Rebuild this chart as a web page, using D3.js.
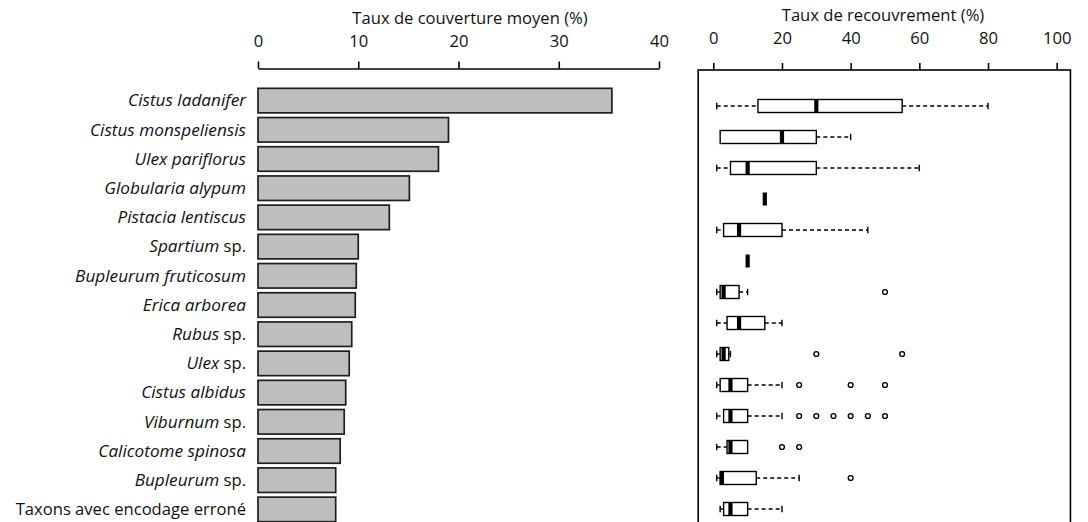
<!DOCTYPE html>
<html><head><meta charset="utf-8">
<script src="https://cdn.jsdelivr.net/npm/d3@7"></script>
<style>
html,body{margin:0;padding:0;background:#fff;}
svg{display:block;font-family:"Open Sans",sans-serif;}
</style></head>
<body>
<svg id="chart" width="1088" height="522"></svg>
<script>
// ---- data ----
const taxa = ["Cistus ladanifer","Cistus monspeliensis","Ulex pariflorus","Globularia alypum","Pistacia lentiscus","Spartium sp.","Bupleurum fruticosum","Erica arborea","Rubus sp.","Ulex sp.","Cistus albidus","Viburnum sp.","Calicotome spinosa","Bupleurum sp.","Taxons avec encodage erroné"];
const meanCover = [35.3, 19.0, 18.0, 15.1, 13.1, 10.0, 9.8, 9.7, 9.35, 9.1, 8.75, 8.6, 8.2, 7.75, 7.75];
const leftTicks = [0, 10, 20, 30, 40];
const rightTicks = [0, 20, 40, 60, 80, 100];
const leftTitle = "Taux de couverture moyen (%)";
const rightTitle = "Taux de recouvrement (%)";
// boxplot statistics per row (rows shown in the right panel)
const boxMin = [1, 2, 1, 15, 1, 10, 1, 1, 1, 1, 1, 1, 1, 2];
const boxQ1  = [13, 2, 5, 15, 3, 10, 2, 4, 2, 2, 3, 4, 2, 3];
const boxMed = [30, 20, 10, 15, 7.5, 10, 3, 7.5, 3, 5, 5, 5, 2.5, 5];
const boxQ3  = [55, 30, 30, 15, 20, 10, 7.5, 15, 4.5, 10, 10, 10, 12.5, 10];
const boxMax = [80, 40, 60, 15, 45, 10, 10, 20, 5, 20, 20, 10, 25, 20];
const outliers = [[], [], [], [], [], [], [50], [], [30, 55], [25, 40, 50], [25, 30, 35, 40, 45, 50], [20, 25], [40], []];

// ---- drawing ----
const svg = d3.select("#chart");
const FS = 16.6;
const FSI = 17.2;

// Left panel
const xL = d3.scaleLinear().domain([0, 40]).range([258, 659]);
const yL = d3.scaleBand().domain(taxa).range([86, 86 + 15 * 29.2]).paddingInner(0.16).paddingOuter(0.08);

const gL = svg.append("g");
gL.selectAll("rect.bar").data(taxa).join("rect")
  .attr("class", "bar")
  .attr("x", xL(0))
  .attr("y", d => yL(d))
  .attr("width", (d, i) => xL(meanCover[i]) - xL(0))
  .attr("height", yL.bandwidth())
  .attr("fill", "#bebebe")
  .attr("stroke", "#1e1e1e")
  .attr("stroke-width", 1.7);

const axL = gL.append("g").attr("transform", "translate(0,68.5)")
  .call(d3.axisTop(xL).tickValues(leftTicks).tickFormat(d3.format("d")).tickSize(7).tickSizeOuter(0).tickPadding(15));
axL.select(".domain").attr("stroke", "#000").attr("stroke-width", 1.6);
axL.selectAll(".tick line").attr("stroke", "#000").attr("stroke-width", 1.6);
axL.selectAll(".tick text").attr("font-size", FS).attr("font-family", "Open Sans").attr("fill", "#111");

gL.append("text").attr("x", 470).attr("y", 23.8).attr("text-anchor", "middle")
  .attr("font-size", FS).attr("fill", "#111").text(leftTitle);

// category labels
const lab = gL.selectAll("text.lab").data(taxa).join("text")
  .attr("class", "lab")
  .attr("x", 246)
  .attr("y", d => yL(d) + yL.bandwidth() / 2)
  .attr("dy", "0.35em")
  .attr("text-anchor", "end")
  .attr("font-size", FS)
  .attr("fill", "#111");
lab.each(function(d) {
  const t = d3.select(this);
  if (d.startsWith("Taxons")) {
    t.append("tspan").text(d);
  } else if (d.endsWith(" sp.")) {
    t.append("tspan").attr("font-style", "italic").attr("font-size", FSI).text(d.slice(0, -4));
    t.append("tspan").text("\u00a0sp.");
  } else {
    t.append("tspan").attr("font-style", "italic").attr("font-size", FSI).text(d);
  }
});

// Right panel
const xR = d3.scaleLinear().domain([0, 100]).range([713.3, 1056.7]);
const rows = d3.range(boxMed.length);
const yR = d3.scalePoint().domain(rows).range([106, 509]);
const gR = svg.append("g");

gR.append("rect")
  .attr("x", xR(-4.4)).attr("y", 70)
  .attr("width", xR(104) - xR(-4.4)).attr("height", 520)
  .attr("fill", "none").attr("stroke", "#000").attr("stroke-width", 1.6);

const axR = gR.append("g").attr("transform", "translate(0,70)")
  .call(d3.axisTop(xR).tickValues(rightTicks).tickSize(7).tickSizeOuter(0).tickPadding(19));
axR.select(".domain").remove();
axR.selectAll(".tick line").attr("stroke", "#000").attr("stroke-width", 1.6);
axR.selectAll(".tick text").attr("font-size", FS).attr("font-family", "Open Sans").attr("fill", "#111");

gR.append("text").attr("x", 883).attr("y", 21.3).attr("text-anchor", "middle")
  .attr("font-size", FS).attr("fill", "#111").text(rightTitle);

const BH = 13;
const rowG = gR.selectAll("g.row").data(rows).join("g").attr("class", "row")
  .attr("transform", i => `translate(0,${yR(i)})`);

// whiskers (dashed)
rowG.filter(i => boxMin[i] < boxQ1[i]).append("line")
  .attr("x1", i => xR(boxMin[i])).attr("x2", i => xR(boxQ1[i]))
  .attr("stroke", "#000").attr("stroke-width", 1.3).attr("stroke-dasharray", "4,3");
rowG.filter(i => boxMax[i] > boxQ3[i]).append("line")
  .attr("x1", i => xR(boxQ3[i])).attr("x2", i => xR(boxMax[i]))
  .attr("stroke", "#000").attr("stroke-width", 1.3).attr("stroke-dasharray", "4,3");
// staples
rowG.filter(i => boxMin[i] < boxQ1[i]).append("line")
  .attr("x1", i => xR(boxMin[i])).attr("x2", i => xR(boxMin[i]))
  .attr("y1", -BH / 4).attr("y2", BH / 4)
  .attr("stroke", "#000").attr("stroke-width", 1.4);
rowG.filter(i => boxMax[i] > boxQ3[i]).append("line")
  .attr("x1", i => xR(boxMax[i])).attr("x2", i => xR(boxMax[i]))
  .attr("y1", -BH / 4).attr("y2", BH / 4)
  .attr("stroke", "#000").attr("stroke-width", 1.4);
// box
rowG.filter(i => boxQ3[i] > boxQ1[i]).append("rect")
  .attr("x", i => xR(boxQ1[i])).attr("y", -BH / 2)
  .attr("width", i => xR(boxQ3[i]) - xR(boxQ1[i])).attr("height", BH)
  .attr("fill", "#fff").attr("stroke", "#000").attr("stroke-width", 1.4);
// median
rowG.append("line")
  .attr("x1", i => xR(boxMed[i])).attr("x2", i => xR(boxMed[i]))
  .attr("y1", -BH / 2).attr("y2", BH / 2)
  .attr("stroke", "#000").attr("stroke-width", 4.2);
// outliers
rowG.selectAll("circle").data(i => outliers[i]).join("circle")
  .attr("cx", v => xR(v)).attr("cy", 0).attr("r", 2.4)
  .attr("fill", "none").attr("stroke", "#000").attr("stroke-width", 1.4);
</script>
</body></html>
